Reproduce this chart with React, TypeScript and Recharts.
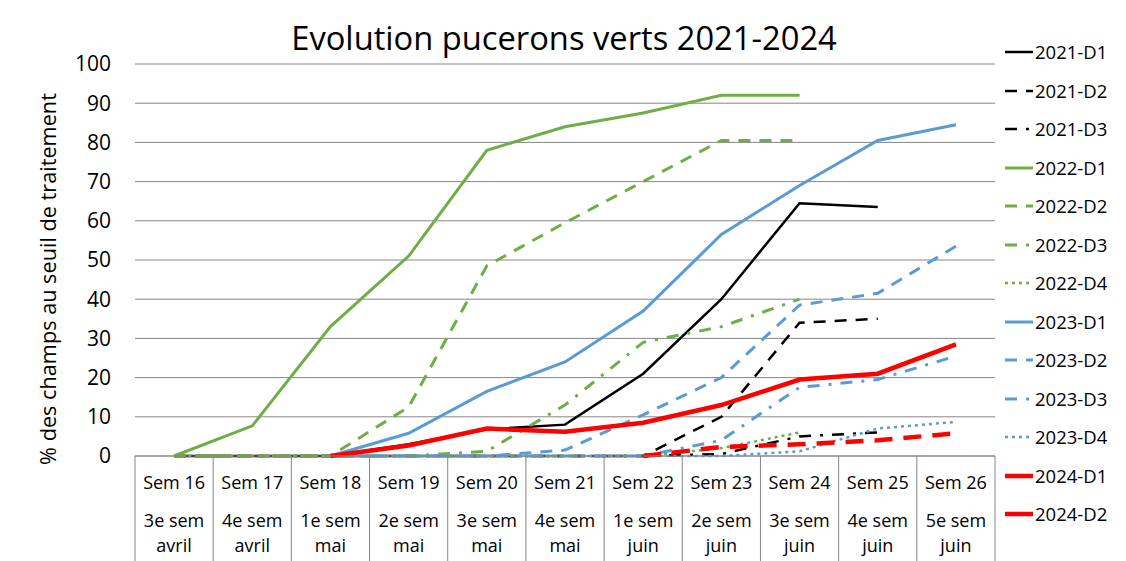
import React from 'react';
import { LineChart, Line, XAxis, YAxis, CartesianGrid, Legend, Label } from 'recharts';

const categories = ['Sem 16', 'Sem 17', 'Sem 18', 'Sem 19', 'Sem 20', 'Sem 21', 'Sem 22', 'Sem 23', 'Sem 24', 'Sem 25', 'Sem 26'];
const weekLabels = ['3e sem', '4e sem', '1e sem', '2e sem', '3e sem', '4e sem', '1e sem', '2e sem', '3e sem', '4e sem', '5e sem'];
const monthLabels = ['avril', 'avril', 'mai', 'mai', 'mai', 'mai', 'juin', 'juin', 'juin', 'juin', 'juin'];
const yTicks = [0, 10, 20, 30, 40, 50, 60, 70, 80, 90, 100];

const v2021D1 = [0, 0, 0, 3, 6.8, 8, 21, 40, 64.5, 63.5, null];
const v2021D2 = [0, 0, 0, 0, 0, 0, 0, 10, 34, 35, null];
const v2021D3 = [0, 0, 0, 0, 0, 0, 0, 0.5, 5, 6, null];
const v2022D1 = [0, 7.7, 33, 51, 78, 84, 87.5, 92, 92, null, null];
const v2022D2 = [0, 0, 0, 12.5, 48.5, 59.5, 70, 80.5, 80.5, null, null];
const v2022D3 = [0, 0, 0, 0, 1.2, 13, 29, 33, 40, null, null];
const v2022D4 = [0, 0, 0, 0, 0, 0, 0, 2, 6, null, null];
const v2023D1 = [null, null, 0, 5.8, 16.5, 24, 37, 56.5, 69, 80.5, 84.5];
const v2023D2 = [null, null, 0, 0, 0, 1.5, 10.5, 20, 38.5, 41.5, 53.5];
const v2023D3 = [null, null, 0, 0, 0, 0, 0, 4, 17.5, 19.5, 25.5];
const v2023D4 = [null, null, 0, 0, 0, 0, 0, 0, 1.2, 7, 8.7];
const v2024D1 = [null, null, 0, 2.7, 7, 6.2, 8.5, 13, 19.5, 21, 28.5];
const v2024D2 = [null, null, null, null, null, null, 0, 2.3, 3, 4, 5.8];

const BLACK = '#000000';
const GREEN = '#70AD47';
const BLUE = '#5B9BD5';
const RED = '#FF0000';
const GRID = '#868686';
const FONT = '"Open Sans", "Noto Sans", sans-serif';

const DASH = '12 9';
const DASHDOT = '12 9 3 9';
const DOT = '3 4';

type Series = {
  key: string;
  name: string;
  values: (number | null)[];
  color: string;
  width: number;
  dash?: string;
  legendDash?: string;
};

const series: Series[] = [
  { key: 's2021D1', name: '2021-D1', values: v2021D1, color: BLACK, width: 2.5 },
  { key: 's2021D2', name: '2021-D2', values: v2021D2, color: BLACK, width: 2.5, dash: DASH, legendDash: DASH },
  { key: 's2021D3', name: '2021-D3', values: v2021D3, color: BLACK, width: 2.5, dash: DASHDOT, legendDash: DASHDOT },
  { key: 's2022D1', name: '2022-D1', values: v2022D1, color: GREEN, width: 3 },
  { key: 's2022D2', name: '2022-D2', values: v2022D2, color: GREEN, width: 3, dash: DASH, legendDash: DASH },
  { key: 's2022D3', name: '2022-D3', values: v2022D3, color: GREEN, width: 3, dash: DASHDOT, legendDash: DASHDOT },
  { key: 's2022D4', name: '2022-D4', values: v2022D4, color: GREEN, width: 2.5, dash: DOT, legendDash: DOT },
  { key: 's2023D1', name: '2023-D1', values: v2023D1, color: BLUE, width: 3 },
  { key: 's2023D2', name: '2023-D2', values: v2023D2, color: BLUE, width: 3, dash: DASH, legendDash: DASH },
  { key: 's2023D3', name: '2023-D3', values: v2023D3, color: BLUE, width: 3, dash: DASHDOT, legendDash: DASHDOT },
  { key: 's2023D4', name: '2023-D4', values: v2023D4, color: BLUE, width: 2.5, dash: DOT, legendDash: DOT },
  { key: 's2024D1', name: '2024-D1', values: v2024D1, color: RED, width: 4.5 },
  { key: 's2024D2', name: '2024-D2', values: v2024D2, color: RED, width: 4.5, dash: '18 11' },
];

const data = categories.map((cat, i) => {
  const row: Record<string, string | number | null> = { cat };
  series.forEach((s) => {
    row[s.key] = s.values[i];
  });
  return row;
});

const CHART_W = 1126;
const CHART_H = 561;
const MARGIN = { top: 64, right: 131, bottom: 0, left: 0 };
const Y_W = 135;
const X_H = 105;
const PLOT_W = CHART_W - MARGIN.left - MARGIN.right - Y_W;
const CELL = PLOT_W / categories.length;

function TableTick(props: any) {
  const { x, y, payload } = props;
  const i = categories.indexOf(payload.value);
  const half = CELL / 2;
  const txt = { textAnchor: 'middle' as const, fontSize: 18, fill: '#000', fontFamily: FONT };
  return (
    <g>
      <line x1={x - half} x2={x - half} y1={y} y2={y + X_H} stroke={GRID} strokeWidth={1} />
      {i === categories.length - 1 && (
        <line x1={x + half} x2={x + half} y1={y} y2={y + X_H} stroke={GRID} strokeWidth={1} />
      )}
      <text x={x} y={y + 33} {...txt}>{payload.value}</text>
      <text x={x} y={y + 71} {...txt}>{weekLabels[i]}</text>
      <text x={x} y={y + 96} {...txt}>{monthLabels[i]}</text>
    </g>
  );
}

function LegendContent() {
  return (
    <div style={{ width: 122 }}>
      {series.map((s) => (
        <div key={s.key} style={{ height: 38.5, display: 'flex', alignItems: 'center' }}>
          <svg width={30} height={10} style={{ display: 'block' }}>
            <line x1={1} x2={29} y1={5} y2={5} stroke={s.color} strokeWidth={s.width} strokeDasharray={s.legendDash} />
          </svg>
          <span style={{ fontFamily: FONT, fontSize: 18.5, lineHeight: '20px', color: '#000', marginLeft: 1 }}>{s.name}</span>
        </div>
      ))}
    </div>
  );
}

export default function App() {
  return (
    <div style={{ position: 'relative', width: CHART_W, height: CHART_H, background: '#fff', overflow: 'hidden' }}>
      <style>{`body{margin:0;}`}</style>
      <LineChart width={CHART_W} height={CHART_H} data={data} margin={MARGIN}>
        <CartesianGrid horizontal={true} vertical={false} stroke={GRID} strokeWidth={1} />
        <XAxis
          dataKey="cat"
          height={X_H}
          interval={0}
          tickLine={false}
          tickSize={0}
          tickMargin={0}
          axisLine={{ stroke: GRID, strokeWidth: 1 }}
          padding={{ left: CELL / 2, right: CELL / 2 }}
          tick={<TableTick />}
        />
        <YAxis
          width={Y_W}
          domain={[0, 100]}
          ticks={yTicks}
          interval={0}
          axisLine={false}
          tickLine={false}
          tickSize={0}
          tickMargin={24}
          tick={{ fontSize: 21, fill: '#000', fontFamily: FONT }}
        >
          <Label
            content={() => (
              <text
                x={47}
                y={279}
                transform="rotate(-90 47 279)"
                textAnchor="middle"
                dominantBaseline="central"
                fontSize={21.7}
                fontFamily={FONT}
                fill="#000"
              >
                % des champs au seuil de traitement
              </text>
            )}
          />
        </YAxis>
        {series.map((s) => (
          <Line
            key={s.key}
            type="linear"
            dataKey={s.key}
            name={s.name}
            stroke={s.color}
            strokeWidth={s.width}
            strokeDasharray={s.dash}
            dot={false}
            activeDot={false}
            isAnimationActive={false}
          />
        ))}
        <Legend
          layout="vertical"
          align="center"
          verticalAlign="middle"
          content={() => <LegendContent />}
          wrapperStyle={{ left: 1004, top: 33, width: 122 }}
        />
      </LineChart>
      <svg
        width={CHART_W}
        height={CHART_H}
        style={{ position: 'absolute', left: 0, top: 0, pointerEvents: 'none' }}
      >
        <text x={564} y={50} textAnchor="middle" fontSize={32.7} fontFamily={FONT} fill="#000">
          Evolution pucerons verts 2021-2024
        </text>
      </svg>
    </div>
  );
}
